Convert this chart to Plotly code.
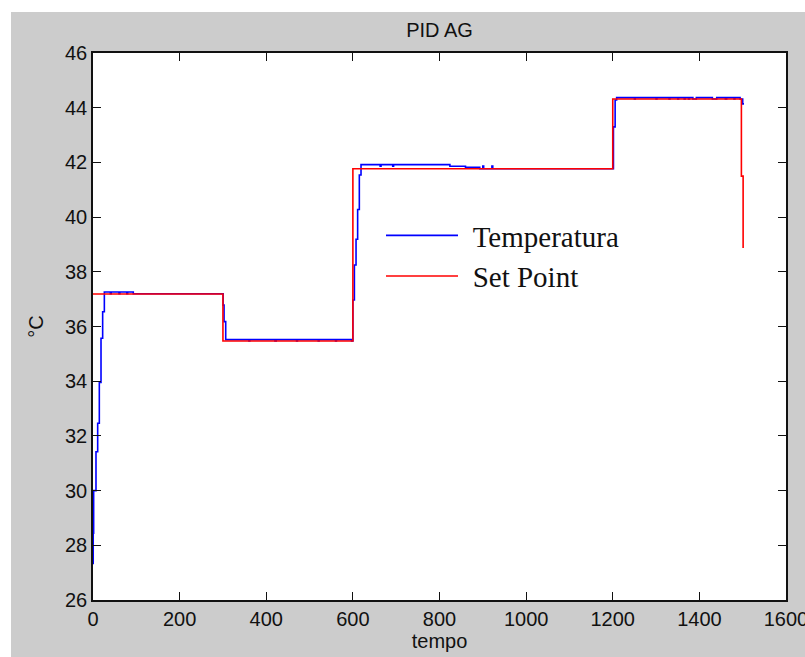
import plotly.graph_objects as go

# ---- data ----
temp_t = [0, 0.5, 1.5, 6.9, 10.8, 14.6, 18.5, 22.3, 26.2, 40, 42, 60, 62, 78, 80, 93,
          300.5, 302.6, 306.4, 360, 362, 420, 423, 470, 472, 520, 522, 560, 562, 597,
          600, 603.5, 607.3, 611, 614.9, 618.8, 663, 665, 692, 694, 824, 860, 893,
          900, 902, 921, 923,
          1201.6, 1205.5, 1209, 1250, 1252, 1300, 1302, 1330, 1332, 1350, 1352,
          1365, 1367, 1375, 1377, 1385, 1393, 1430, 1440, 1460, 1463, 1480, 1482,
          1494, 1500, 1503]
temp_v = [27.34, 28.44, 30.0, 31.42, 32.46, 33.95, 35.57, 36.54, 37.26, 37.2, 37.26, 37.2, 37.26, 37.2, 37.26, 37.2,
          36.78, 36.18, 35.52, 35.47, 35.52, 35.47, 35.52, 35.47, 35.52, 35.47, 35.52, 35.47, 35.52, 35.47,
          36.97, 38.25, 39.19, 40.28, 41.54, 41.92, 41.86, 41.92, 41.86, 41.92, 41.86, 41.82, 41.77,
          41.87, 41.77, 41.87, 41.77,
          43.3, 44.28, 44.37, 44.32, 44.37, 44.32, 44.37, 44.32, 44.37, 44.32, 44.37,
          44.32, 44.37, 44.32, 44.37, 44.32, 44.37, 44.32, 44.37, 44.32, 44.37, 44.32, 44.37,
          44.32, 44.14, 44.14]

setpoint_t = [0, 300, 600, 1200, 1497, 1501]
setpoint_v = [37.19, 35.47, 41.77, 44.32, 41.5, 38.87]

x_ticks = [0, 200, 400, 600, 800, 1000, 1200, 1400, 1600]
y_ticks = [26, 28, 30, 32, 34, 36, 38, 40, 42, 44, 46]

title_text = "PID AG"
x_title = "tempo"
y_title = "°C"
names = ["Temperatura", "Set Point"]

# ---- figure ----
W, H = 805, 657
ML, MR, MT, MB = 93, 19, 53, 57
pw, ph = W - ML - MR, H - MT - MB

fig = go.Figure()
fig.add_trace(go.Scatter(x=temp_t, y=temp_v, mode="lines", name="\u2004" + names[0],
                         line=dict(color="#0000ff", width=1.6, shape="hv")))
fig.add_trace(go.Scatter(x=setpoint_t, y=setpoint_v, mode="lines", name="\u2004" + names[1],
                         line=dict(color="#ff0000", width=1.6, shape="hv")))

axis_font = dict(family="Liberation Sans, Arial, sans-serif", size=20, color="#111111")
common = dict(showgrid=False, zeroline=False, showline=True, linecolor="#111111",
              linewidth=1.5, mirror="ticks", ticks="inside", ticklen=8,
              tickwidth=1.2, tickcolor="#111111", tickfont=axis_font,
              ticklabeloverflow="allow", automargin=False)

fig.update_xaxes(range=[0, 1600], tickvals=x_ticks, ticktext=[str(v) for v in x_ticks],
                 title=dict(text=x_title, font=axis_font, standoff=0), **common)
fig.update_yaxes(range=[26, 46], tickvals=y_ticks, ticktext=[str(v) for v in y_ticks],
                 title=dict(text=y_title, font=axis_font, standoff=16), **common)

# white strips of the page outside the grey figure window
def px_x(p):
    return (p - ML) / pw

def px_y(p):
    return (H - MB - p) / ph

fig.add_shape(type="rect", xref="paper", yref="paper", x0=px_x(0), x1=px_x(W),
              y0=px_y(0), y1=px_y(12), fillcolor="white", line_width=0, layer="below")
fig.add_shape(type="rect", xref="paper", yref="paper", x0=px_x(0), x1=px_x(11),
              y0=px_y(0), y1=px_y(H), fillcolor="white", line_width=0, layer="below")

fig.update_layout(
    width=W, height=H,
    margin=dict(l=ML, r=MR, t=MT, b=MB, autoexpand=False),
    paper_bgcolor="#cccccc", plot_bgcolor="white",
    title=dict(text=title_text, xref="paper", x=0.5, xanchor="center",
               y=1 - 30 / H, yanchor="middle",
               font=dict(family="Liberation Sans, Arial, sans-serif", size=20, color="#111111")),
    showlegend=True,
    legend=dict(x=px_x(381), y=px_y(210), xanchor="left", yanchor="top",
                bgcolor="rgba(0,0,0,0)", borderwidth=0, itemwidth=72,
                font=dict(family="Liberation Serif, Times New Roman, serif", size=29, color="#111111"),
                tracegroupgap=0),
)

fig.write_html(
    "out.html",
    config={"displayModeBar": False},
    post_script=("document.body.style.margin='0';"
                 "document.body.style.overflow='hidden';"
                 "document.documentElement.style.overflow='hidden';"),
)
